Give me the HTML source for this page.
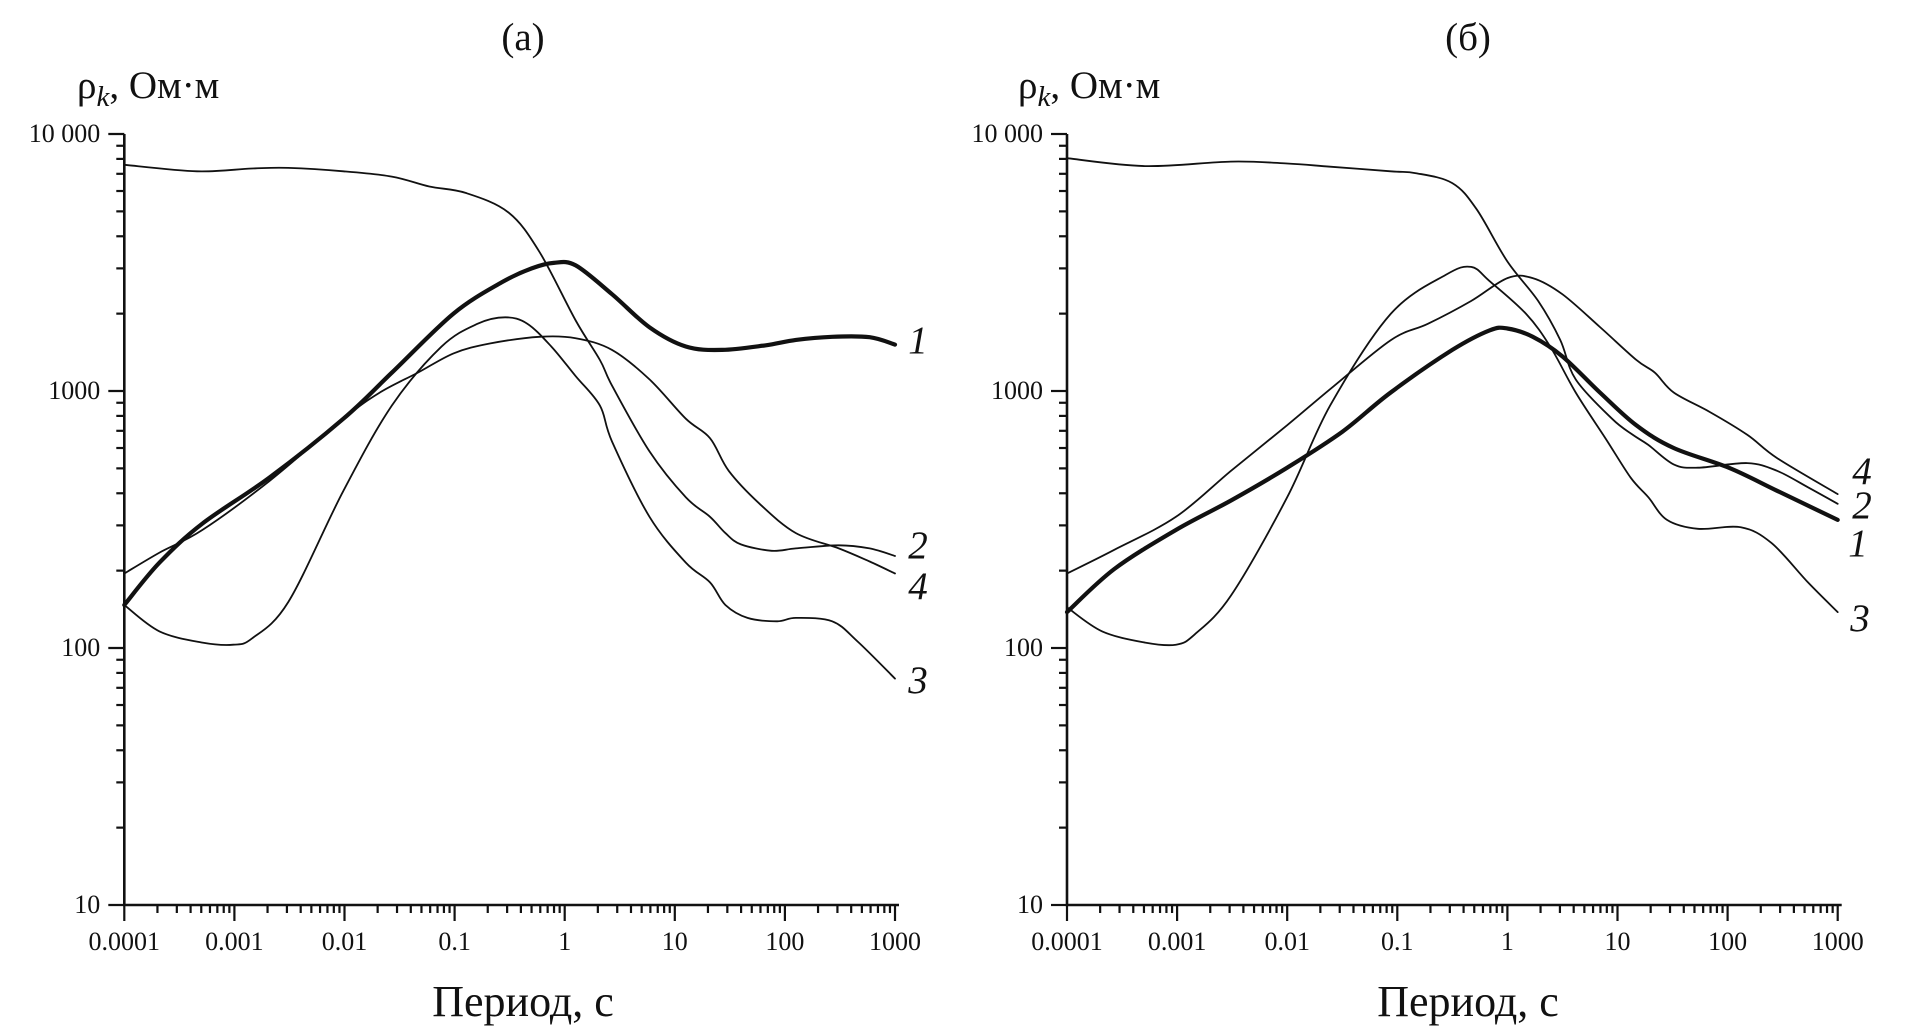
<!DOCTYPE html>
<html><head><meta charset="utf-8"><style>
html,body{margin:0;padding:0;background:#fff;}
svg{display:block;}
text{font-family:"Liberation Serif",serif;fill:#111;}
</style></head><body>
<svg id="fig" width="1924" height="1026" viewBox="0 0 1924 1026" xmlns="http://www.w3.org/2000/svg"></svg>
<script>
// ---- data: log10(period) positions and resistivity values (Ohm·m) ----
// Panel (a)
const aC1T=[-4,-3.68,-3.29,-2.68,-2.01,-1.57,-1.01,-0.57,-0.3,-0.1,0.1,0.43,0.77,1.1,1.43,1.82,2.1,2.43,2.77,3];
const aC1V=[147,215,305,461,780,1178,2000,2650,3000,3150,3080,2380,1770,1490,1445,1505,1580,1625,1620,1515];
const aC2T=[-4,-3.34,-2.84,-2.51,-2.01,-1.57,-1.23,-0.9,-0.51,-0.23,0.1,0.32,0.43,0.77,1.1,1.32,1.46,1.6,1.88,2.1,2.49,2.77,3];
const aC2V=[7590,7160,7340,7380,7160,6830,6250,5900,4950,3480,1880,1320,1050,582,386,324,280,253,239,244,251,244,228];
const aC3T=[-4,-3.68,-3.29,-3.01,-2.84,-2.51,-2.01,-1.57,-1.12,-0.79,-0.54,-0.34,-0.12,0.1,0.32,0.43,0.77,1.1,1.32,1.46,1.66,1.93,2.1,2.43,2.66,3];
const aC3V=[147,116,105,103,109,151,409,877,1487,1827,1935,1827,1487,1142,877,636,324,215,180,147,131,127,131,127,106,76];
const aC4T=[-4,-3.68,-3.29,-2.68,-2.01,-1.68,-1.34,-1.01,-0.68,-0.23,0.1,0.43,0.77,1.1,1.32,1.49,1.77,2.1,2.49,2.77,3];
const aC4V=[195,235,288,447,780,986,1175,1400,1530,1625,1605,1445,1110,780,655,489,364,280,244,217,195];
// Panel (б)
const bC1T=[-4,-3.57,-3.01,-2.51,-2,-1.5,-1.06,-0.5,-0.16,0,0.23,0.5,0.84,1.17,1.51,2.01,2.45,3];
const bC1V=[138,203,288,375,503,694,987,1445,1722,1750,1625,1362,987,736,600,503,409,315];
const bC2T=[-4,-3.29,-2.51,-2,-1.61,-1.06,-0.83,-0.5,-0.28,0,0.28,0.48,0.62,0.95,1.14,1.28,1.51,1.73,2.18,2.45,2.73,3];
const bC2V=[8050,7500,7810,7680,7460,7160,7040,6440,5100,3190,2240,1580,1110,780,675,617,518,503,524,489,422,364];
const bC3T=[-4,-3.68,-3.29,-3.01,-2.84,-2.51,-2,-1.61,-1.06,-0.56,-0.33,-0.16,0.17,0.39,0.62,0.89,1.12,1.28,1.45,1.73,2.12,2.4,2.73,3];
const bC3V=[144,116,105,103,113,160,386,877,1995,2830,3040,2673,1995,1487,987,655,460,386,315,291,295,256,180,138];
const bC4T=[-4,-3.57,-3.01,-2.51,-2,-1.61,-1.06,-0.72,-0.33,0,0.23,0.5,0.84,1.17,1.34,1.51,1.84,2.18,2.45,3];
const bC4V=[195,241,324,489,736,1016,1577,1827,2240,2750,2750,2378,1775,1322,1178,987,828,675,548,397];
// axis tick labels
const xTickLabels=["0.0001","0.001","0.01","0.1","1","10","100","1000"];
const yTickLabels=["10","100","1000","10 000"];

const NS="http://www.w3.org/2000/svg";
const svg=document.getElementById('fig');
function mk(tag,attrs,parent){const e=document.createElementNS(NS,tag);for(const k in attrs)e.setAttribute(k,attrs[k]);(parent||svg).appendChild(e);return e;}

const Y0=905, YDEC=257, DEC=110.1;
function yOf(v){return Y0-(Math.log10(v)-1)*YDEC;}

function path(xs,ys){
  let d='M'+xs[0].toFixed(1)+','+ys[0].toFixed(1);
  for(let i=0;i<xs.length-1;i++){
    const x0=xs[Math.max(i-1,0)],y0=ys[Math.max(i-1,0)];
    const x1=xs[i],y1=ys[i],x2=xs[i+1],y2=ys[i+1];
    const x3=xs[Math.min(i+2,xs.length-1)],y3=ys[Math.min(i+2,xs.length-1)];
    d+=' C'+(x1+(x2-x0)/6).toFixed(1)+','+(y1+(y2-y0)/6).toFixed(1)+' '+(x2-(x3-x1)/6).toFixed(1)+','+(y2-(y3-y1)/6).toFixed(1)+' '+x2.toFixed(1)+','+y2.toFixed(1);
  }
  return d;
}

function panel(id,X0,title,titleX,ylabX,xlabX,series,labels){
  const g=mk('g',{});
  
  
  const xOf=lt=>X0+(lt+4)*DEC;
  const t=mk('text',{x:titleX,y:50,'font-size':39,'text-anchor':'middle'},g);t.textContent=title;
  
  const yl=mk('text',{x:ylabX,y:98,'font-size':39},g);
  
  yl.innerHTML='ρ<tspan font-style="italic" font-size="29" dy="8">k</tspan><tspan dy="-8">, Ом·м</tspan>';
  const xl=mk('text',{x:xlabX,y:1016,'font-size':44,'text-anchor':'middle'},g);xl.textContent='Период, с';
  
  const ax=mk('path',{d:'M'+X0+','+(yOf(10000))+' V'+Y0+' H'+(xOf(3)+4),stroke:'#111','stroke-width':2.6,fill:'none'},g);
  
  for(let d=1;d<=4;d++){
    for(let m=1;m<=(d===4?1:9);m++){
      const y=yOf(m*Math.pow(10,d));
      const L=m===1?16:8;
      const tk=mk('line',{x1:X0-L,x2:X0,y1:y,y2:y,stroke:'#111','stroke-width':2.2},g);
      
    }
  }
  yTickLabels.forEach((s,i)=>{
    const tl=mk('text',{x:X0-24,y:yOf(Math.pow(10,i+1))+8,'font-size':26,'text-anchor':'end'},g);tl.textContent=s;
    
  });
  for(let d=-4;d<=3;d++){
    for(let m=1;m<=(d===3?1:9);m++){
      const x=xOf(d+Math.log10(m));
      const L=m===1?16:8;
      const tk=mk('line',{x1:x,x2:x,y1:Y0,y2:Y0+L,stroke:'#111','stroke-width':2.2},g);
      
    }
  }
  xTickLabels.forEach((s,i)=>{
    const tl=mk('text',{x:xOf(i-4),y:950,'font-size':26,'text-anchor':'middle'},g);tl.textContent=s;
    
  });
  series.forEach(s=>{
    const p=mk('path',{d:path(s.t.map(xOf),s.v.map(yOf)),stroke:'#111','stroke-width':s.w,fill:'none','stroke-linejoin':'round','stroke-linecap':'round'},g);
    
    
  });
  labels.forEach(l=>{
    const tl=mk('text',{x:l[1],y:l[2]+13,'font-size':39,'font-style':'italic','text-anchor':'middle'},g);tl.textContent=l[0];
    
    
  });
}

panel('a',124.3,'(a)',523,77,523,[
  {n:'2',t:aC2T,v:aC2V,w:1.8},{n:'3',t:aC3T,v:aC3V,w:1.8},{n:'4',t:aC4T,v:aC4V,w:1.8},{n:'1',t:aC1T,v:aC1V,w:4.2}
],[['1',918,340],['2',918,545],['4',918,586],['3',918,680]]);
panel('b',1067,'(б)',1468,1018,1468,[
  {n:'2',t:bC2T,v:bC2V,w:1.8},{n:'3',t:bC3T,v:bC3V,w:1.8},{n:'4',t:bC4T,v:bC4V,w:1.8},{n:'1',t:bC1T,v:bC1V,w:4.2}
],[['4',1862,471],['2',1862,505],['1',1858,543],['3',1860,618]]);
</script>
</body></html>
